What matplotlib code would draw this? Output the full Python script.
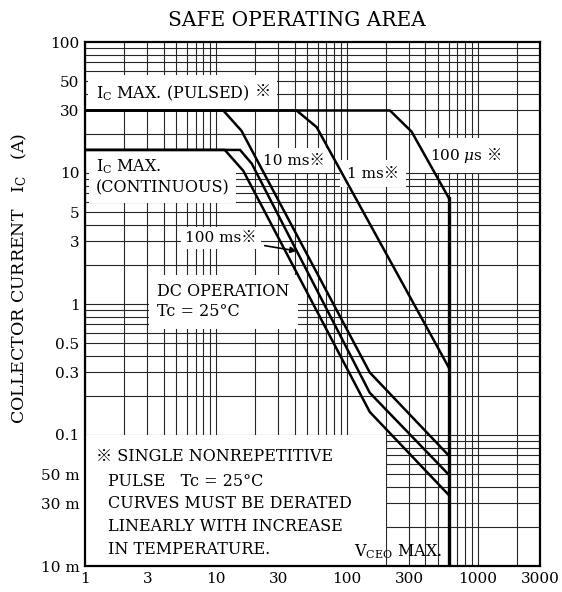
import numpy as np
import matplotlib
matplotlib.use("Agg")
import matplotlib.pyplot as plt
from matplotlib.ticker import FixedLocator, NullFormatter
from matplotlib.patches import Rectangle

plt.rcParams['font.family'] = ['DejaVu Serif', 'Noto Sans CJK JP']
plt.rcParams['mathtext.fontset'] = 'dejavuserif'

# --- data (V_CE in volts, I_C in amperes) ---
v_100us = [1, 214, 313, 600]
i_100us = [30, 30, 20.7, 6.5]

v_1ms = [1, 41.4, 58.9, 600]
i_1ms = [30, 30, 22.4, 0.33]

v_10ms = [1, 11.4, 15.7, 150, 600]
i_10ms = [30, 30, 21, 0.3, 0.07]

v_100ms = [1, 15.3, 18.8, 150, 600]
i_100ms = [15, 15, 11.8, 0.21, 0.05]

v_dc = [1, 11.7, 16.2, 150, 600]
i_dc = [15, 15, 10.4, 0.15, 0.035]

vceo_max = 600

x_ticks = [1, 3, 10, 30, 100, 300, 1000, 3000]
x_labels = ['1', '3', '10', '30', '100', '300', '1000', '3000']
y_ticks = [100, 50, 30, 10, 5, 3, 1, 0.5, 0.3, 0.1, 0.05, 0.03, 0.01]
y_labels = ['100', '50', '30', '10', '5', '3', '1', '0.5', '0.3', '0.1',
            '50 m', '30 m', '10 m']

fig = plt.figure(figsize=(5.62, 5.92), dpi=100)
ax = fig.add_axes([85 / 562, 1 - 566 / 592, 455 / 562, 524 / 592])
ax.set_xscale('log')
ax.set_yscale('log')
ax.set_xlim(1, 3000)
ax.set_ylim(0.01, 100)

# full log grid (every 1..9 of each decade)
minor_x = [m * 10.0 ** e for e in range(0, 4) for m in range(1, 10)]
minor_y = [m * 10.0 ** e for e in range(-2, 2) for m in range(1, 10)]
for v in minor_x:
    ax.axvline(v, color='0.15', lw=0.8, zorder=0.5)
for i in minor_y:
    ax.axhline(i, color='0.15', lw=0.8, zorder=0.5)

ax.xaxis.set_major_locator(FixedLocator(x_ticks))
ax.xaxis.set_major_formatter(plt.FixedFormatter(x_labels))
ax.xaxis.set_minor_formatter(NullFormatter())
ax.yaxis.set_major_locator(FixedLocator(y_ticks))
ax.yaxis.set_major_formatter(plt.FixedFormatter(y_labels))
ax.yaxis.set_minor_formatter(NullFormatter())
ax.tick_params(which='both', length=0, labelsize=11, pad=4)
for s in ax.spines.values():
    s.set_linewidth(1.6)
    s.set_zorder(5)

# curves
kw = dict(color='black', lw=1.8, zorder=4, solid_joinstyle='miter')
ax.plot(v_100us, i_100us, **kw)
ax.plot(v_1ms, i_1ms, **kw)
ax.plot(v_10ms, i_10ms, **kw)
ax.plot(v_100ms, i_100ms, **kw)
ax.plot(v_dc, i_dc, **kw)
ax.plot([vceo_max, vceo_max], [0.01, i_100us[-1]], color='black', lw=2.4, zorder=4)


def white(pad):
    return dict(facecolor='white', edgecolor='none', pad=pad)


# white area under the note
ax.add_patch(Rectangle((1, 0.01), 199, 0.09, facecolor='white',
                       edgecolor='none', zorder=1.5))

fs = 11.5
t = ax.text(1.21, 40.6, r'I$_\mathrm{C}$ MAX. (PULSED)', fontsize=fs,
            ha='left', va='center', bbox=white(6), zorder=2)
ax.annotate('※', xy=(1, 0.5), xycoords=t, xytext=(4, 1), textcoords='offset points',
            fontsize=fs, ha='left', va='center', bbox=white(4), zorder=2)

ax.text(1.21, 9.35, 'I$_\\mathrm{C}$ MAX.\n(CONTINUOUS)', fontsize=fs,
        ha='left', va='center', linespacing=1.25, bbox=white(5), zorder=2)
ax.text(22.9, 12.4, '10 ms※', fontsize=11, ha='left', va='center',
        bbox=white(4), zorder=2)
ax.text(100, 9.9, '1 ms※', fontsize=11, ha='left', va='center',
        bbox=white(5), zorder=2)
t = ax.text(432, 13.6, r'100 $\mu$s', fontsize=11, ha='left', va='center',
            bbox=white(6), zorder=2)
ax.annotate('※', xy=(1, 0.5), xycoords=t, xytext=(3, 0), textcoords='offset points',
            fontsize=11, ha='left', va='center', zorder=2.1,
            bbox=dict(facecolor='white', edgecolor='none', boxstyle='square,pad=0.15'))

# 100 ms label with arrow onto the 100 ms curve
v_arrow = 41.5
i_arrow = 10 ** np.interp(np.log10(v_arrow), np.log10(v_100ms), np.log10(i_100ms))
ax.annotate('100 ms※', xy=(v_arrow, i_arrow), xytext=(5.81, 3.17),
            fontsize=11, ha='left', va='center', zorder=2, bbox=white(3),
            arrowprops=dict(arrowstyle='-|>', color='black', lw=1.2,
                            mutation_scale=9, shrinkA=3, shrinkB=0))

ax.text(3.55, 1.04, 'DC OPERATION\nTc = 25°C', fontsize=fs, ha='left',
        va='center', linespacing=1.25, bbox=white(6), zorder=2)

ax.text(1.21, 0.0682, '※ SINGLE NONREPETITIVE', fontsize=fs, ha='left',
        va='center', zorder=2)
ax.text(1.50, 0.0244,
        'PULSE   Tc = 25°C\nCURVES MUST BE DERATED\n'
        'LINEARLY WITH INCREASE\nIN TEMPERATURE.',
        fontsize=fs, ha='left', va='center', linespacing=1.43, zorder=2)
ax.text(534, 0.0119, r'V$_\mathrm{CEO}$ MAX.', fontsize=fs, ha='right',
        va='baseline', zorder=2)

fig.text(297 / 562, 1 - 20 / 592, 'SAFE OPERATING AREA', fontsize=14.5,
         ha='center', va='center')
fig.text(19 / 562, 1 - 278 / 592, r'COLLECTOR CURRENT   I$_\mathrm{C}$   (A)',
         fontsize=12.5, rotation=90, ha='center', va='center')

fig.savefig('out.png', dpi=100)
